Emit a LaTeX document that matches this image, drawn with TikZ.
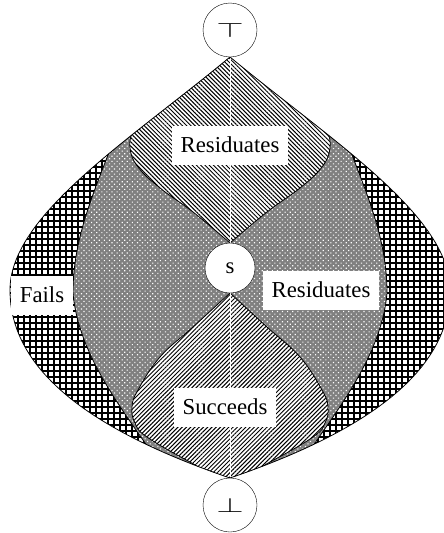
\documentclass[tikz,border=0pt]{standalone}
\usepackage{fontspec}
\setmainfont{Liberation Serif}
\usetikzlibrary{patterns.meta}
\tikzset{
  state/.style={circle, draw, fill=white, inner sep=0pt, minimum size=54pt, font=\fontsize{20}{24}\selectfont},
  tag/.style={fill=white, inner xsep=9pt, minimum height=39pt, font=\fontsize{22.8}{27}\selectfont},
  border/.style={draw=black, line width=0.8pt},
  fails/.style={pattern={Hatch[angle=0, distance=6pt, line width=1.25pt]}},
  mixed/.style={fill=black!50, postaction={pattern={Dots[angle=45, distance=3.6pt, radius=0.8pt]}, pattern color=white}},
  upper/.style={preaction={fill=white}, pattern={Lines[angle=-45, distance=3pt, line width=1pt]}},
  lower/.style={preaction={fill=white}, pattern={Lines[angle=45, distance=3pt, line width=1pt]}},
}
% region outlines, in pixel units
\def\outerpath{(T) .. controls (130,140) and (10,215) .. (10,290)
  .. controls (10,370) and (90,430) .. (B)
  .. controls (370,430) and (450,370) .. (450,290)
  .. controls (450,215) and (330,140) .. (T) -- cycle}
\def\midpath{(230,0) -- (125,110) .. controls (100,180) and (73,230) .. (73,293)
  .. controls (78,350) and (115,400) .. (150,450) -- (230,520) -- (310,450)
  .. controls (345,400) and (382,350) .. (387,293)
  .. controls (387,230) and (360,180) .. (335,110) -- cycle}
\def\toppath{plot[smooth, tension=0.7] coordinates {(230,243) (193,212) (160,188) (138,167) (130,148) (133,130) (142,112) (160,92)}
  -- (230,40) -- plot[smooth, tension=0.7] coordinates {(300,92) (318,112) (327,130) (330,148) (322,167) (300,188) (267,212) (230,243)} -- cycle}
\def\botpath{plot[smooth, tension=0.7] coordinates {(230,293) (193,327) (160,357) (138,390) (132,407) (135,423) (147,437) (190,462) (230,482)
  (270,462) (313,437) (325,423) (328,407) (322,390) (300,357) (267,327) (230,293)} -- cycle}

\begin{document}
\begin{tikzpicture}[x=1pt, y=-1pt]
\useasboundingbox (0,0) rectangle (444,533);
\clip (0,0) rectangle (444,533);
\fill[white] (0,0) rectangle (444,533);

\coordinate (T) at (230,57);
\coordinate (B) at (230,478);

% whole space
\path[fails] \outerpath;

% inner regions, kept inside the outline
\begin{scope}
  \clip \outerpath;
  \path[mixed] \midpath;
  \draw[border] \midpath;
  \path[upper, border] \toppath;
  \path[lower, border] \botpath;
  \draw[white, line width=0.4pt] (T) -- (230,243);
  \draw[white, line width=0.4pt] (230,293) -- (B);
\end{scope}
\draw[border] \outerpath;

% labels
\node[tag] (resTop) at (230,145) {Residuates};
\node[tag] (failsTag) at (42,295) {Fails};
\node[tag] (resRight) at (321,290) {Residuates};
\node[tag] (succTag) at (225,407) {Succeeds};

% elements
\node[state] (top) at (230,30) {\scalebox{1.7}[1]{$\top$}};
\node[state, minimum size=50pt, font=\fontsize{22.8}{27}\selectfont] (s) at (230,268) {s};
\node[state] (bot) at (230,505) {\scalebox{1.7}[1]{$\bot$}};
\end{tikzpicture}
\end{document}
